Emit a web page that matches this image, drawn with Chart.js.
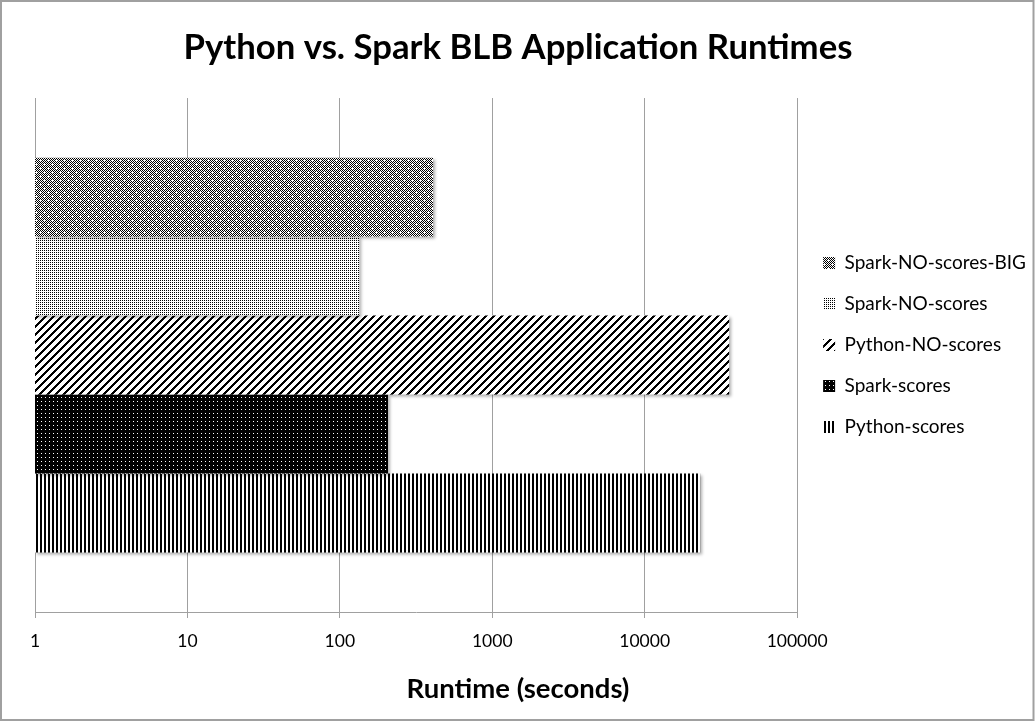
<!DOCTYPE html>
<html>
<head>
<meta charset="utf-8">
<script src="https://cdn.jsdelivr.net/npm/chart.js@4.4.1/dist/chart.umd.min.js"></script>
<style>
  html, body { margin: 0; padding: 0; background: #fff; }
  #wrap { width: 1036px; height: 722px; }
</style>
</head>
<body>
<div id="wrap"><canvas id="c" width="1036" height="722"></canvas></div>
<script>
// ---- data ----
const categories = ['Runtime'];
const seriesNames = ['Spark-NO-scores-BIG', 'Spark-NO-scores', 'Python-NO-scores', 'Spark-scores', 'Python-scores'];
const sparkNoScoresBig = [409];
const sparkNoScores = [134];
const pythonNoScores = [35800];
const sparkScores = [207];
const pythonScores = [23100];
const xTicks = [1, 10, 100, 1000, 10000, 100000];
const xTickLabels = ['1', '10', '100', '1000', '10000', '100000'];
const titleText = 'Python vs. Spark BLB Application Runtimes';
const xTitleText = 'Runtime (seconds)';

const canvas = document.getElementById('c');
const ctx = canvas.getContext('2d');

function makePattern(w, h, bg, fg, cells) {
  const c = document.createElement('canvas');
  c.width = w; c.height = h;
  const x = c.getContext('2d');
  x.fillStyle = bg; x.fillRect(0, 0, w, h);
  x.fillStyle = fg;
  for (let j = 0; j < h; j++) for (let i = 0; i < w; i++) if (cells(i, j)) x.fillRect(i, j, 1, 1);
  return ctx.createPattern(c, 'repeat');
}

const patBig = makePattern(8, 8, '#fff', '#000', (i, j) => ((i + j) % 2 === 0) && !((i === 0 && j === 0) || (i === 4 && j === 4)));
const patSparkNo = makePattern(2, 2, '#fff', '#000', (i, j) => i === 0 && j === 0);
const patPyNo = makePattern(8, 8, '#fff', '#000', (i, j) => ((i + j) % 8) < 3);
const patSpark = makePattern(4, 4, '#000', '#fff', (i, j) => i === 1 && j === 1);
const patPy = makePattern(4, 1, '#fff', '#000', (i, j) => i < 2);

const seriesValues = [sparkNoScoresBig, sparkNoScores, pythonNoScores, sparkScores, pythonScores];
const seriesPatterns = [patBig, patSparkNo, patPyNo, patSpark, patPy];

const gridGray = '#a0a0a0';

const bgPlugin = {
  id: 'bg',
  beforeDraw(chart) {
    const c = chart.ctx;
    c.save(); c.fillStyle = '#fff'; c.fillRect(0, 0, chart.width, chart.height); c.restore();
  },
  afterDraw(chart) {
    const c = chart.ctx;
    c.save(); c.strokeStyle = '#a0a0a0'; c.lineWidth = 2;
    c.strokeRect(1, 1, chart.width - 3.5, chart.height - 3);
    c.restore();
  }
};
const shadowPlugin = {
  id: 'shadow',
  beforeDatasetsDraw(chart) {
    const c = chart.ctx;
    c.save();
    c.shadowColor = 'rgba(0,0,0,0.3)';
    c.shadowBlur = 3; c.shadowOffsetX = 2; c.shadowOffsetY = 2;
  },
  afterDatasetsDraw(chart) { chart.ctx.restore(); }
};

Chart.defaults.font.family = 'Lato, "Open Sans", sans-serif';
Chart.defaults.color = '#000';

new Chart(canvas, {
  type: 'bar',
  data: {
    labels: categories,
    datasets: seriesNames.map((n, i) => ({
      label: n,
      data: seriesValues[i],
      backgroundColor: seriesPatterns[i],
      borderWidth: 0,
      xAxisID: 'x',
      yAxisID: 'y',
      categoryPercentage: 0.768,
      barPercentage: 1.0
    }))
  },
  options: {
    indexAxis: 'y',
    responsive: false,
    animation: false,
    layout: { padding: { left: 0, top: 0, right: 0, bottom: 32 } },
    scales: {
      x: {
        type: 'logarithmic',
        min: 1, max: 100000,
        afterBuildTicks(scale) { scale.ticks = xTicks.map(v => ({ value: v })); },
        ticks: {
          callback: (v, i) => xTickLabels[i],
          font: { size: 17.5 },
          padding: 13,
          maxRotation: 0, autoSkip: false
        },
        grid: { color: gridGray, lineWidth: 1, tickLength: 6, drawTicks: true },
        border: { display: true, color: gridGray, width: 1 }
      },
      y: {
        type: 'category',
        position: 'left',
        ticks: { display: false },
        grid: { display: false, drawTicks: false },
        border: { display: true, color: gridGray, width: 1 },
        afterFit(s) { s.width = 35; }
      },
      pad: {
        type: 'linear', position: 'right', min: 0, max: 1,
        ticks: { display: false },
        grid: { display: false, drawTicks: false },
        border: { display: false },
        afterFit(s) { s.width = 4; }
      }
    },
    plugins: {
      title: {
        display: true, text: titleText,
        font: { size: 34.7, weight: 'bold' },
        padding: { top: 27.2, bottom: 29.2 },
        color: '#000'
      },
      subtitle: {
        display: true, text: xTitleText, position: 'bottom',
        font: { size: 27.5, weight: 'bold' },
        padding: { top: 7.5, bottom: -15.5 },
        color: '#000'
      },
      legend: {
        display: true, position: 'right', align: 'center',
        maxWidth: 320,
        labels: { boxWidth: 12, boxHeight: 12, padding: 22, font: { size: 19 }, color: '#000' }
      },
      tooltip: { enabled: false }
    }
  },
  plugins: [bgPlugin, shadowPlugin]
});
</script>
</body>
</html>
